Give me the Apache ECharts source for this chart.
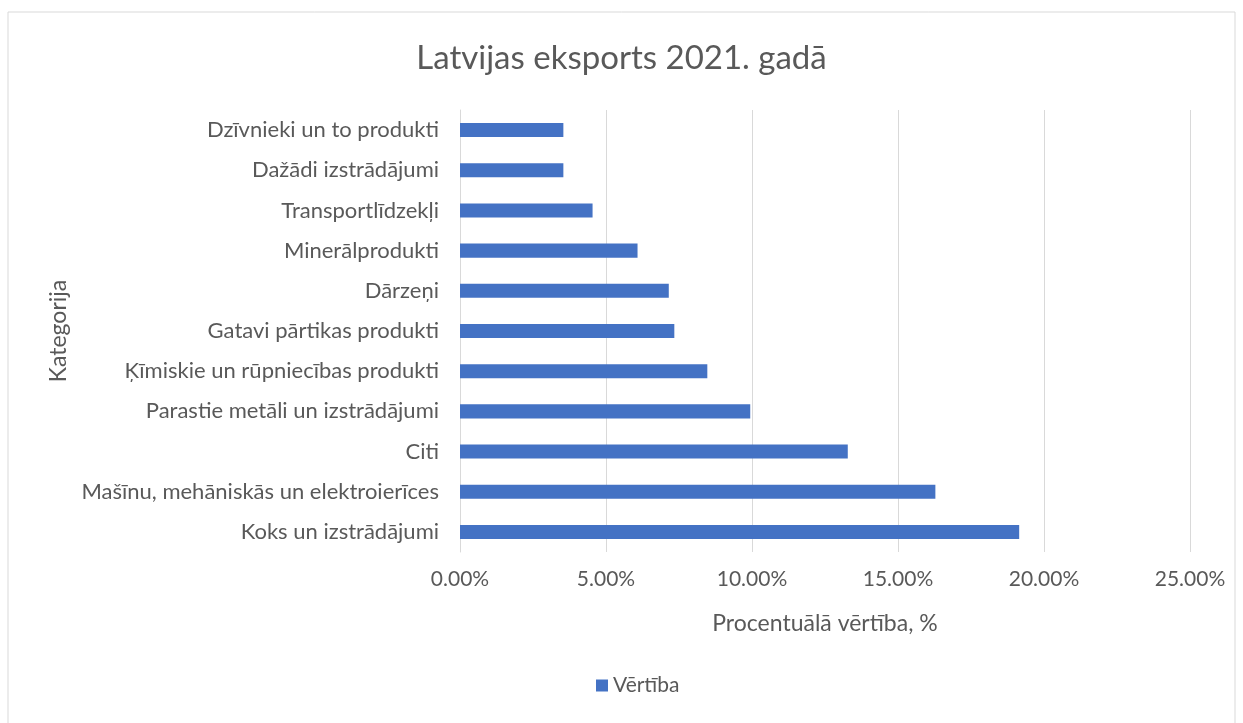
<!DOCTYPE html>
<html>
<head>
<meta charset="utf-8">
<script src="https://cdn.jsdelivr.net/npm/echarts@6/dist/echarts.min.js"></script>
<style>
    html, body { margin: 0; padding: 0; background: #fff; }
    #chart { width: 1243px; height: 723px; }
</style>
</head>
<body>
<div id="chart"></div>
<script>
// categories from bottom to top
const categories = [
    'Koks un izstrādājumi',
    'Mašīnu, mehāniskās un elektroierīces',
    'Citi',
    'Parastie metāli un izstrādājumi',
    'Ķīmiskie un rūpniecības produkti',
    'Gatavi pārtikas produkti',
    'Dārzeņi',
    'Minerālprodukti',
    'Transportlīdzekļi',
    'Dažādi izstrādājumi',
    'Dzīvnieki un to produkti'
];
const values = [0.1915, 0.1628, 0.1328, 0.0994, 0.0847, 0.0734, 0.0715, 0.0608, 0.0454, 0.0354, 0.0354];

const chart = echarts.init(document.getElementById('chart'));

const textColor = '#595959';
const font = 'Lato, "Open Sans", sans-serif';

const option = {
    animation: false,
    textStyle: { fontFamily: font },
    graphic: [{
        type: 'rect',
        shape: { x: 8, y: 12, width: 1227, height: 720 },
        style: { fill: 'none', stroke: '#d9d9d9', lineWidth: 1 }
    }],
    title: {
        text: 'Latvijas eksports 2021. gadā',
        left: 'center',
        top: 37,
        textStyle: { color: textColor, fontSize: 33, fontWeight: 'normal', fontFamily: font }
    },
    legend: {
        bottom: 22,
        left: 591,
        itemWidth: 12,
        itemHeight: 12,
        itemGap: 5,
        icon: 'rect',
        textStyle: { color: textColor, fontSize: 21, fontFamily: font },
        data: ['Vērtība']
    },
    grid: {
        left: 460,
        right: 53,
        top: 110,
        bottom: 171
    },
    xAxis: {
        type: 'value',
        min: 0,
        max: 0.25,
        interval: 0.05,
        name: 'Procentuālā vērtība, %',
        nameLocation: 'middle',
        nameGap: 60,
        nameTextStyle: { color: textColor, fontSize: 23, fontFamily: font },
        axisLine: { show: false },
        axisTick: { show: false },
        axisLabel: {
            color: textColor,
            fontSize: 21,
            margin: 17,
            formatter: v => (v * 100).toFixed(2) + '%'
        },
        splitLine: { lineStyle: { color: '#d9d9d9', width: 1 } }
    },
    yAxis: {
        type: 'category',
        data: categories,
        name: 'Kategorija',
        nameLocation: 'middle',
        nameRotate: 90,
        nameGap: 386,
        nameTextStyle: { color: textColor, fontSize: 23, fontFamily: font },
        axisLine: { show: true, lineStyle: { color: '#d9d9d9' } },
        axisTick: { show: false },
        axisLabel: { color: textColor, fontSize: 22, margin: 21 }
    },
    series: [{
        name: 'Vērtība',
        type: 'bar',
        data: values,
        barWidth: '35%',
        itemStyle: { color: '#4472c4' }
    }]
};

chart.setOption(option);
window.addEventListener('resize', function () {
    chart.resize();
});
</script>
</body>
</html>
